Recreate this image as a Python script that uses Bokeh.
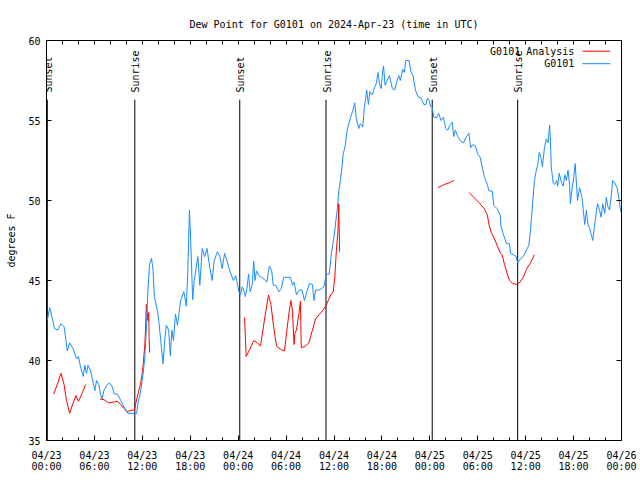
import math
from bokeh.plotting import figure
from bokeh.models import LinearAxis, FixedTicker, Range1d, Label, Arrow
from bokeh.core.properties import value
from bokeh.embed import file_html
from bokeh.resources import INLINE

FONT = "DejaVu Sans Mono"
NAN = float("nan")

# hours since 2024-04-23 00:00 UTC
obs_hours = [0.1, 0.4, 0.7, 1.0, 1.4, 1.8, 2.2, 2.4, 2.6, 2.9, 3.3, 3.75, 4.0, 4.26, 4.6, 4.8, 5.0, 5.2, 5.5,
             5.85, 6.05, 6.26, 6.55, 6.76, 6.97, 7.18, 7.5, 7.85, 8.2, 8.5, 8.9, 9.3, 9.7, 10.2, 11.3, 11.4,
             11.8, 12.1, 12.3, 12.5, 12.7, 12.9, 13.15, 13.35, 13.5, 13.9, 14.1, 14.3, 14.6, 14.8, 15.0, 15.3,
             15.5, 15.7, 15.9, 16.15, 16.4, 16.8, 17.2, 17.5, 17.7, 17.9, 18.1, 18.3, 18.5, 18.95, 19.2, 19.5,
             19.8, 20.1, 20.45, 20.75, 21.0, 21.4, 21.7, 22.0, 22.3, 22.6, 22.95, 23.4, 23.7, 24.1, 24.3, 24.5,
             24.7, 24.9, 25.1, 25.3, 25.5, 25.75, 25.95, 26.1, 26.3, 26.6, 26.9, 27.2, 27.6, 27.9, 28.2, 28.4,
             28.7, 29.1, 29.4, 29.7, 30.1, 30.55, 30.8, 31.0, 31.3, 31.6, 32.0, 32.3, 32.6, 32.9, 33.3, 33.5,
             33.7, 34.1, 34.5, 34.8, 35.0, 35.4, 35.65, 35.9, 36.1, 36.2, 36.4, 36.6, 36.8, 37.0, 37.15, 37.4,
             37.65, 37.9, 38.15, 38.4, 38.6, 38.8, 39.1, 39.3, 39.6, 39.8, 40.1, 40.3, 40.5, 40.8, 41.1, 41.3,
             41.5, 41.7, 41.9, 42.1, 42.2, 42.4, 42.65, 42.95, 43.3, 43.6, 43.9, 44.1, 44.3, 44.6, 44.8, 45.0,
             45.4, 45.6, 45.9, 46.2, 46.5, 46.9, 47.25, 47.5, 47.7, 47.9, 48.1, 48.3, 48.5, 48.9, 49.1, 49.4,
             49.7, 50.0, 50.25, 50.5, 50.8, 51.0, 51.2, 51.5, 51.8, 52.2, 52.6, 52.9, 53.1, 53.4, 53.7, 54.0,
             54.3, 54.6, 54.85, 55.2, 55.4, 55.8, 56.0, 56.4, 56.8, 56.9, 57.2, 57.4, 57.6, 57.98, 58.1, 58.5,
             58.8, 59.0, 59.35, 59.7, 60.1, 60.4, 60.6, 60.7, 60.9, 61.1, 61.3, 61.5, 61.7, 61.9, 62.1, 62.35,
             62.6, 62.8, 63.0, 63.1, 63.2, 63.45, 63.65, 63.9, 64.0, 64.2, 64.5, 64.7, 64.9, 65.1, 65.3, 65.5,
             65.6, 65.8, 66.0, 66.2, 66.5, 66.75, 67.05, 67.25, 67.4, 67.6, 67.8, 68.0, 68.2, 68.4, 68.6, 68.85,
             69.0, 69.25, 69.45, 69.65, 69.9, 70.1, 70.3, 70.5, 70.7, 70.9, 71.15, 71.45, 71.65, 71.9]
obs_dewpt = [42.5, 43.3, 42.7, 42.0, 41.9, 42.3, 42.1, 41.4, 40.6, 41.1, 40.8, 40.1, 40.25, 39.6, 39.0, 39.7, 39.2,
             39.7, 39.4, 38.6, 38.1, 38.75, 38.5, 37.9, 37.6, 38.1, 38.4, 38.6, 38.4, 37.9, 37.9, 37.5, 37.1, 36.7,
             36.7, 37.2, 38.1, 39.2, 40.1, 41.9, 44.4, 46.0, 46.4, 45.6, 44.0, 43.1, 42.3, 41.25, 39.8, 41.25, 42.2,
             41.9, 40.3, 41.9, 41.25, 42.9, 42.2, 43.75, 44.3, 43.4, 45.6, 49.4, 46.9, 43.8, 45.0, 46.5, 44.7, 47.0,
             46.5, 47.0, 45.8, 45.0, 46.25, 46.8, 46.5, 45.75, 46.7, 46.25, 45.6, 45.0, 45.3, 44.3, 44.1, 44.6, 44.4,
             44.0, 44.5, 45.4, 44.3, 44.7, 46.2, 45.0, 45.6, 45.3, 45.2, 45.1, 44.9, 45.9, 45.6, 44.7, 44.7, 44.3,
             44.5, 45.2, 45.2, 45.2, 44.7, 44.9, 44.1, 44.4, 44.4, 43.75, 44.3, 44.8, 44.75, 43.75, 44.4, 44.4, 44.5,
             44.7, 45.4, 45.4, 46.6, 47.4, 48.1, 48.6, 49.4, 50.6, 51.25, 52.1, 52.9, 53.4, 54.4, 54.9, 55.3, 55.7,
             56.1, 55.1, 54.5, 54.8, 54.6, 55.8, 56.9, 56.0, 56.8, 56.6, 57.1, 57.3, 58.0, 57.3, 57.0, 58.1, 58.4,
             57.2, 57.5, 57.8, 57.0, 56.9, 57.5, 57.8, 57.5, 58.2, 58.0, 58.75, 58.75, 58.1, 57.8, 56.9, 56.5, 56.4,
             56.0, 56.0, 56.4, 56.25, 55.9, 55.8, 55.2, 55.2, 55.45, 55.0, 55.2, 54.5, 54.4, 54.7, 54.9, 54.0, 54.4,
             54.0, 53.75, 53.6, 54.0, 54.2, 53.3, 53.5, 53.4, 52.9, 52.7, 52.0, 51.45, 51.0, 50.6, 50.6, 49.7, 49.5,
             49.1, 48.4, 47.9, 47.6, 47.3, 47.3, 46.7, 46.6, 46.5, 46.1, 46.35, 46.5, 46.9, 47.2, 48.1, 48.75, 50.0,
             51.25, 51.8, 52.2, 53.0, 52.7, 52.1, 53.3, 53.85, 53.6, 54.7, 53.75, 52.1, 51.1, 51.0, 51.25, 50.9,
             51.7, 51.1, 50.9, 51.6, 51.25, 51.9, 51.0, 49.8, 50.7, 51.35, 52.3, 50.0, 50.8, 50.2, 49.2, 48.5, 49.4,
             48.5, 48.3, 47.9, 47.5, 48.3, 49.3, 49.8, 49.4, 48.95, 49.8, 49.2, 50.2, 49.6, 49.4, 50.2, 51.25, 51.1,
             50.8, 50.2, 49.3]

ana_hours = [0.9, 1.35, 1.8, 2.2, 2.5, 2.9, 3.3, 3.7, 4.0, 4.5, 4.9, NAN,
             6.7, 7.2, 7.8, 8.4, 8.85, 9.3, 9.7, 10.1, 10.7, 11.0, 11.35, 11.8, 12.05, 12.3, 12.4, 12.5, 12.7,
             12.8, 12.85, 12.9, NAN,
             24.8, 24.9, 25.0, 25.45, 25.95, 26.4, 26.8, 27.1, 27.4, 27.8, 28.1, 28.5, 28.8, 29.3, 29.8, 30.1,
             30.4, 30.6, 30.8, 31.0, 31.1, 31.3, 31.6, 31.8, 31.9, 32.4, 32.85, 33.3, 33.7, 34.2, 34.7, 35.15,
             35.6, 35.9, 36.1, 36.3, 36.5, 36.6, 36.7, NAN,
             49.0, 49.4, 49.8, 50.4, 51.0, NAN,
             52.9, 53.5, 54.1, 54.8, 55.2, 55.4, 55.7, 56.1, 56.5, 56.85, 57.05, 57.35, 57.7, 58.0, 58.4, 58.9,
             59.3, 59.7, 60.1, 60.6, 61.1]
ana_dewpt = [37.9, 38.5, 39.2, 38.5, 37.5, 36.7, 37.3, 37.8, 37.45, 38.0, 38.5, NAN,
             37.6, 37.55, 37.35, 37.4, 37.45, 37.25, 37.0, 36.8, 36.9, 36.9, 37.7, 38.6, 39.4, 40.9, 41.9, 43.5,
             42.5, 43.0, 41.5, 40.5, NAN,
             42.7, 41.5, 40.25, 40.7, 41.25, 41.1, 40.9, 41.9, 42.9, 44.1, 43.5, 41.9, 40.9, 40.7, 40.6, 41.9,
             43.1, 43.75, 43.1, 41.0, 41.7, 41.9, 42.9, 43.7, 40.8, 40.9, 41.1, 41.9, 42.6, 42.9, 43.2, 43.6,
             44.1, 44.3, 45.2, 46.9, 48.1, 49.8, 46.8, NAN,
             50.8, 50.9, 51.0, 51.1, 51.25, NAN,
             50.5, 50.2, 49.9, 49.5, 49.1, 48.5, 48.0, 47.6, 47.1, 46.7, 46.6, 46.0, 45.4, 45.0, 44.8, 44.75,
             44.9, 45.2, 45.7, 46.1, 46.6]

sun_hours = [0.1, 11.06, 24.2, 35.0, 48.3, 59.0]
sun_labels = ["Sunset", "Sunrise", "Sunset", "Sunrise", "Sunset", "Sunrise"]

x_major_ticks = [0, 6, 12, 18, 24, 30, 36, 42, 48, 54, 60, 66, 72]
x_tick_labels = ["04/23\n00:00", "04/23\n06:00", "04/23\n12:00", "04/23\n18:00",
                 "04/24\n00:00", "04/24\n06:00", "04/24\n12:00", "04/24\n18:00",
                 "04/25\n00:00", "04/25\n06:00", "04/25\n12:00", "04/25\n18:00",
                 "04/26\n00:00"]
x_minor_ticks = list(range(0, 73, 2))
y_ticks = [35, 40, 45, 50, 55, 60]

series_names = ["G0101 Analysis", "G0101"]
series_colors = ["#ff0000", "#1a8cff"]

p = figure(width=640, height=480, x_range=Range1d(0, 72), y_range=Range1d(35, 60),
           output_backend="svg", toolbar_location=None,
           title="Dew Point for G0101 on 2024-Apr-23 (time in UTC)",
           min_border_left=46, min_border_right=19, min_border_top=40, min_border_bottom=40,
           x_axis_type=None, y_axis_type=None)
p.title.align = "center"
p.title.text_font = FONT
p.title.text_font_size = "10px"
p.title.text_font_style = "normal"
p.title.text_color = "black"
p.title.standoff = 22
p.grid.visible = False
p.outline_line_color = "black"
p.outline_line_width = 1
p.background_fill_color = "white"
p.border_fill_color = "white"


def style_axis(ax):
    ax.axis_line_color = "black"
    ax.major_tick_line_color = "black"
    ax.minor_tick_line_color = "black"
    ax.major_tick_in = 5
    ax.major_tick_out = 0
    ax.minor_tick_in = 3
    ax.minor_tick_out = 0
    ax.major_label_text_font = FONT
    ax.major_label_text_font_size = "10px"
    ax.major_label_text_color = "black"
    ax.axis_label_text_font = FONT
    ax.axis_label_text_font_size = "10px"
    ax.axis_label_text_font_style = "normal"
    ax.axis_label_text_color = "black"


xb = LinearAxis(ticker=FixedTicker(ticks=x_major_ticks, minor_ticks=x_minor_ticks))
xb.major_label_overrides = {t: lab for t, lab in zip(x_major_ticks, x_tick_labels)}
style_axis(xb)
xb.major_label_standoff = 9
xb.major_label_text_line_height = 1.0
p.add_layout(xb, "below")

# mirrored tick marks (no labels) on top and right
xa = LinearAxis(ticker=FixedTicker(ticks=[], minor_ticks=x_minor_ticks))
style_axis(xa)
xa.minor_tick_in = 4
xa.major_label_standoff = 0
p.add_layout(xa, "above")

yl = LinearAxis(ticker=FixedTicker(ticks=y_ticks, minor_ticks=[]), axis_label="degrees F")
style_axis(yl)
yl.major_label_standoff = 6
yl.axis_label_standoff = 8
p.add_layout(yl, "left")

yr = LinearAxis(ticker=FixedTicker(ticks=[], minor_ticks=y_ticks))
style_axis(yr)
yr.minor_tick_in = 5
yr.major_label_standoff = 0
p.add_layout(yr, "right")

# sunrise / sunset markers
p.segment(x0=sun_hours, y0=[56.3] * len(sun_hours), x1=sun_hours, y1=[35] * len(sun_hours),
          line_color="black", line_width=1)
p.text(x=sun_hours, y=[56.75] * len(sun_hours), text=sun_labels, angle=math.pi / 2,
       text_align="left", text_baseline="middle", x_offset=1,
       text_font=value(FONT), text_font_size="10px", text_color="black")

# data
p.line(ana_hours, ana_dewpt, line_color=series_colors[0], line_width=1)
p.line(obs_hours, obs_dewpt, line_color=series_colors[1], line_width=1)

# legend (gnuplot style: text then sample)
leg_y = [59.33, 58.55]
for name, col, yy in zip(series_names, series_colors, leg_y):
    p.add_layout(Label(x=66.1, y=yy, text=name, text_align="right", text_baseline="middle",
                       text_font=FONT, text_font_size="10px", text_color="black"))
    p.add_layout(Arrow(x_start=67.1, y_start=yy, x_end=70.6, y_end=yy, start=None, end=None,
                       line_color=col, line_width=1))

open("out.html", "w").write(file_html(p, INLINE))
